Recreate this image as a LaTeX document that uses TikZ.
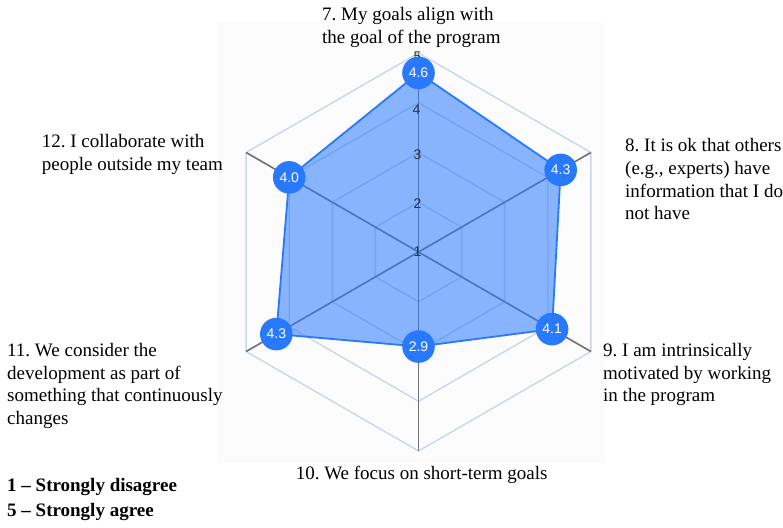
\documentclass[tikz,border=0pt]{standalone}
\usepackage{fontspec}
\setmainfont{Liberation Serif}
\newfontfamily\chartsans{Liberation Sans}
\usetikzlibrary{calc}
\definecolor{chartblue}{HTML}{2979FF}
\definecolor{gridline}{HTML}{C9D7EC}
\definecolor{axisline}{HTML}{707070}
\definecolor{tickc}{HTML}{333333}
\definecolor{chartbg}{HTML}{FCFCFC}
\begin{document}
\frenchspacing
\begin{tikzpicture}[x=1pt,y=-1pt,
  lbl/.style={font=\fontsize{19}{22.7}\selectfont, inner sep=0pt, align=left, anchor=north west},
  legendtxt/.style={font=\bfseries\fontsize{19}{22}\selectfont, inner sep=0pt, anchor=base west},
  gridhex/.style={draw=gridline, line width=1.4pt},
  axisln/.style={draw=axisline, line width=1.6pt},
  marker/.style={circle, fill=chartblue, minimum size=32.6pt, inner sep=0pt, text=white, font=\chartsans\fontsize{14}{14}\selectfont},
  ticklbl/.style={font=\chartsans\fontsize{14}{14}\selectfont, text=tickc, inner sep=0pt}]
\useasboundingbox (0,0) rectangle (783,527);
\fill[white] (0,0) rectangle (783,527);
\fill[chartbg] (217,22) rectangle (605,463);
\begin{scope}[shift={(418.5,252)}]
  \coordinate (O) at (0,0);
  \foreach \lv in {1,2,3,4}{
    \pgfmathsetmacro\rr{\lv*49.75}
    \draw[gridhex] (-90:\rr) -- (-30:\rr) -- (30:\rr) -- (90:\rr) -- (150:\rr) -- (210:\rr) -- cycle;
  }
  \foreach \a/\n in {-90/a7,-30/a8,30/a9,90/a10,150/a11,210/a12}{
    \coordinate (\n) at (\a:199);
    \draw[axisln] (O) -- (\n);
  }
  \coordinate (d7) at (-90:{3.6*49.75});
  \coordinate (d8) at (-30:{3.3*49.75});
  \coordinate (d9) at (30:{3.1*49.75});
  \coordinate (d10) at (90:{1.9*49.75});
  \coordinate (d11) at (150:{3.3*49.75});
  \coordinate (d12) at (210:{3.0*49.75});
  \filldraw[fill=chartblue, fill opacity=0.55, draw=chartblue, line width=1.8pt, line join=round]
    (d7) -- (d8) -- (d9) -- (d10) -- (d11) -- (d12) -- cycle;
  \node[ticklbl] (t1) at (-1,0) {1};
  \node[ticklbl] (t2) at (-1,-48.5) {2};
  \node[ticklbl] (t3) at (-1,-97.5) {3};
  \node[ticklbl] (t4) at (-2,-142) {4};
  \node[ticklbl] (t5) at (-1,-195) {5};
  \node[marker] (m7) at (d7) {4.6};
  \node[marker] (m8) at (d8) {4.3};
  \node[marker] (m9) at (d9) {4.1};
  \node[marker] (m10) at (d10) {2.9};
  \node[marker] (m11) at (d11) {4.3};
  \node[marker] (m12) at (d12) {4.0};
\end{scope}
\node[lbl] (q7) at (322,7.5) {7. My goals align with\\the goal of the program};
\node[lbl] (q8) at (625,138.5) {8. It is ok that others\\(e.g., experts) have\\information that I do\\not have};
\node[lbl] (q9) at (603,343) {9. I am intrinsically\\motivated by working\\in the program};
\node[font=\fontsize{19}{22.7}\selectfont, inner sep=0pt, anchor=base] (q10) at (421.7,479) {10. We focus on short-term goals};
\node[lbl] (q11) at (7,343) {11. We consider the\\development as part of\\something that continuously\\changes};
\node[lbl] (q12) at (41.7,134.5) {12. I collaborate with\\people outside my team};
\node[legendtxt] (l1) at (7,491) {1 – Strongly disagree};
\node[legendtxt] (l5) at (7,516) {5 – Strongly agree};
\end{tikzpicture}
\end{document}
